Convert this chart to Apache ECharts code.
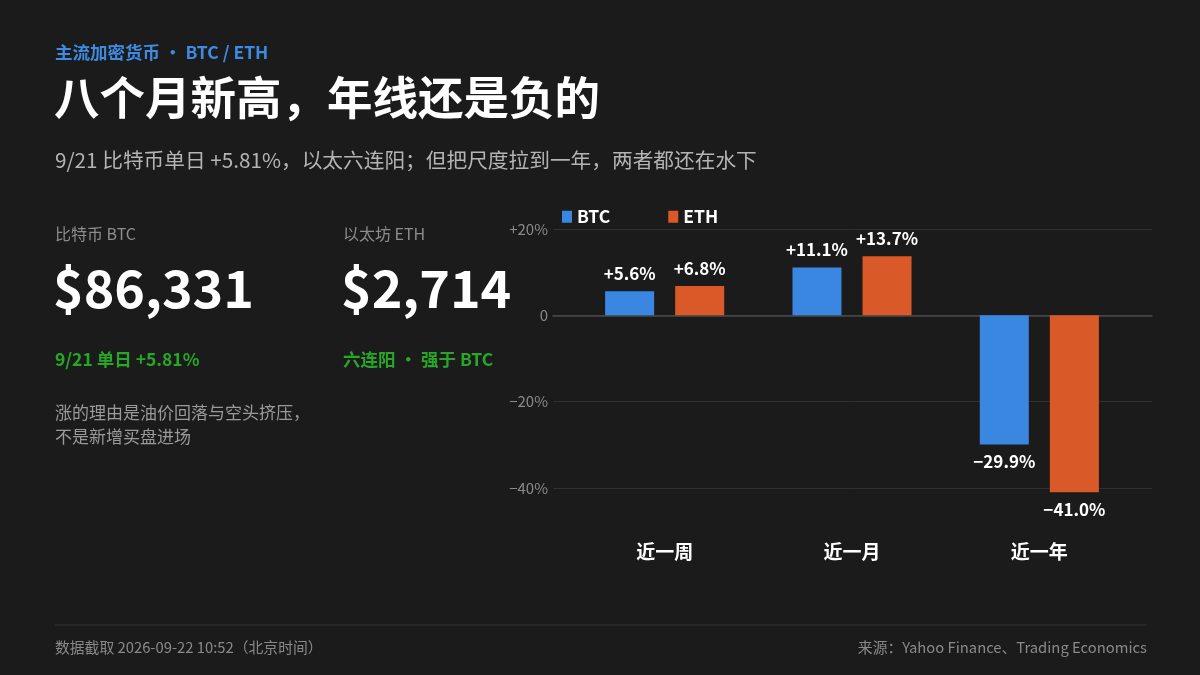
<!DOCTYPE html>
<html><head><meta charset="utf-8">
<script src="https://cdn.jsdelivr.net/npm/echarts@6/dist/echarts.min.js"></script>
<style>html,body{margin:0;padding:0;background:#1b1b1b;}#c{width:1200px;height:675px;}</style>
</head><body><div id="c"></div>
<script>
const categories = ['近一周', '近一月', '近一年'];
const btcValues = [5.6, 11.1, -29.9];
const ethValues = [6.8, 13.7, -41.0];
const seriesNames = ['BTC', 'ETH'];
const yTicks = [20, 0, -20, -40];

const FONT = '"Noto Sans CJK SC", "Noto Sans", sans-serif';
const chart = echarts.init(document.getElementById('c'));
const fmt = v => (v > 0 ? '+' : v < 0 ? '\u2212' : '') + Math.abs(v).toFixed(1) + '%';

function txt(x, y, text, size, color, weight, align) {
  return { type: 'text', x: x, y: y, style: { text: text, font: (weight || 'normal') + ' ' + size + 'px ' + FONT, fill: color, textAlign: align || 'left', textVerticalAlign: 'middle' } };
}

chart.setOption({
  backgroundColor: '#1b1b1b',
  animation: false,
  textStyle: { fontFamily: FONT },
  legend: {
    data: seriesNames, left: 557, top: 203, icon: 'rect', itemWidth: 10, itemHeight: 12, itemGap: 58,
    textStyle: { color: '#ffffff', fontWeight: 'bold', fontSize: 17.5, fontFamily: FONT }
  },
  grid: [
    { left: 553, right: 48, top: 229, bottom: 187 },
    { left: 571, right: 67, top: 229, bottom: 187 }
  ],
  xAxis: [
    { type: 'category', gridIndex: 0, data: categories, axisLine: { show: true, onZero: true, lineStyle: { color: '#4a4a4a', width: 1.5 } }, axisTick: { show: false }, axisLabel: { show: false } },
    { type: 'category', gridIndex: 1, data: categories, axisLine: { show: false }, axisTick: { show: false },
      axisLabel: { color: '#ffffff', fontSize: 19, fontWeight: 'bold', margin: 54, fontFamily: FONT } }
  ],
  yAxis: [
    { type: 'value', gridIndex: 0, min: -40, max: 20, interval: 20,
      axisLine: { show: false }, axisTick: { show: false },
      axisLabel: { color: '#8a8a8a', fontSize: 15, margin: 5, fontFamily: FONT,
        formatter: v => v > 0 ? '+' + v + '%' : v < 0 ? '\u2212' + Math.abs(v) + '%' : '0' },
      splitLine: { lineStyle: { color: '#303030', width: 1 } } },
    { type: 'value', gridIndex: 1, min: -40, max: 20, interval: 20, show: false, splitLine: { show: false } }
  ],
  series: [
    { name: 'BTC', type: 'bar', xAxisIndex: 1, yAxisIndex: 1, barWidth: 49, barGap: '43%', clip: false,
      data: btcValues.map(v => ({ value: v, label: { position: v < 0 ? 'bottom' : 'top' } })),
      itemStyle: { color: '#3a87e2' },
      label: { show: true, distance: 9, color: '#ffffff', fontSize: 17, fontWeight: 'bold', fontFamily: FONT,
        formatter: p => fmt(p.value) } },
    { name: 'ETH', type: 'bar', xAxisIndex: 1, yAxisIndex: 1, barWidth: 49, barGap: '43%', clip: false,
      data: ethValues.map(v => ({ value: v, label: { position: v < 0 ? 'bottom' : 'top' } })),
      itemStyle: { color: '#d95a28' },
      label: { show: true, distance: 9, color: '#ffffff', fontSize: 17, fontWeight: 'bold', fontFamily: FONT,
        formatter: p => fmt(p.value) } }
  ],
  graphic: [
    txt(55, 52, '主流加密货币 · BTC / ETH', 17.5, '#3d8be2', 'bold'),
    txt(54, 98, '八个月新高，年线还是负的', 45.5, '#ffffff', 'bold'),
    txt(55, 160, '9/21 比特币单日 +5.81%，以太六连阳；但把尺度拉到一年，两者都还在水下', 20.7, '#b4b4b4'),
    txt(55, 234, '比特币 BTC', 16, '#8c8c8c'),
    txt(53, 288, '$86,331', 52, '#ffffff', 'bold'),
    txt(55, 359, '9/21 单日 +5.81%', 17.5, '#26a826', 'bold'),
    txt(55, 413, '涨的理由是油价回落与空头挤压，', 17, '#9a9a9a'),
    txt(55, 437, '不是新增买盘进场', 17, '#9a9a9a'),
    txt(343, 234, '以太坊 ETH', 16, '#8c8c8c'),
    txt(341, 288, '$2,714', 52, '#ffffff', 'bold'),
    txt(343, 359, '六连阳 · 强于 BTC', 17.5, '#26a826', 'bold'),
    { type: 'line', shape: { x1: 55, y1: 625, x2: 1147, y2: 625 }, style: { stroke: '#333333', lineWidth: 1 } },
    txt(55, 647, '数据截取 2026-09-22 10:52（北京时间）', 14.8, '#8a8a8a'),
    txt(1147, 647, '来源：Yahoo Finance、Trading Economics', 14.8, '#8a8a8a', 'normal', 'right')
  ]
});
</script></body></html>
